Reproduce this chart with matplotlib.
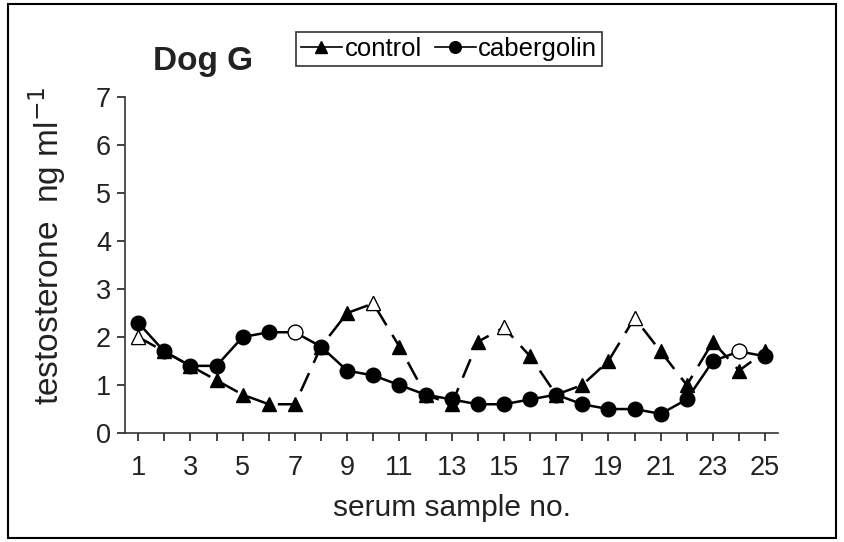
import matplotlib
matplotlib.use("Agg")
from matplotlib import pyplot as plt
from matplotlib.patches import Rectangle

plt.rcParams['font.family'] = ['Liberation Sans', 'DejaVu Sans']

# serum sample numbers
samples = list(range(1, 26))

# testosterone (ng/ml)
control = [2.0, 1.7, 1.4, 1.1, 0.8, 0.6, 0.6, 1.8, 2.5, 2.7, 1.8, 0.8, 0.6,
           1.9, 2.2, 1.6, 0.8, 1.0, 1.5, 2.4, 1.7, 1.0, 1.9, 1.3, 1.7]
cabergolin = [2.3, 1.7, 1.4, 1.4, 2.0, 2.1, 2.1, 1.8, 1.3, 1.2, 1.0, 0.8, 0.7,
              0.6, 0.6, 0.7, 0.8, 0.6, 0.5, 0.5, 0.4, 0.7, 1.5, 1.7, 1.6]

# samples drawn with open symbols
control_open = [1, 10, 15, 20]
cabergolin_open = [7, 24]

fig = plt.figure(figsize=(8.45, 5.42), dpi=100)
ax = fig.add_axes([0.148, 0.201, 0.773, 0.620])

ax.plot(samples, control, color='black', linestyle=(0, (8, 4.5)), lw=1.8,
        marker='^', markersize=10.5, markerfacecolor='black', label='control')
ax.plot(samples, cabergolin, color='black', linestyle='-', lw=1.8,
        marker='o', markersize=10.5, markerfacecolor='black', label='cabergolin')

# open symbols on top
for s in control_open:
    ax.plot(s, control[s - 1], marker='^', markersize=10.5, color='black',
            markerfacecolor='white', markeredgewidth=0.8)
for s in cabergolin_open:
    ax.plot(s, cabergolin[s - 1], marker='o', markersize=10.5, color='black',
            markerfacecolor='white', markeredgewidth=0.8)

ax.set_xlim(0.5, 25.5)
ax.set_ylim(0, 7)
ax.set_xticks(samples)
ax.set_xticklabels([str(s) if s % 2 == 1 else '' for s in samples])
ax.set_yticks(range(0, 8))
ax.tick_params(axis='both', labelsize=19.5, direction='out', length=6,
               width=1.2, colors='#222222')
ax.tick_params(axis='x', pad=10)
ax.tick_params(axis='y', pad=4)
ax.spines['top'].set_visible(False)
ax.spines['right'].set_visible(False)
for sp in ('left', 'bottom'):
    ax.spines[sp].set_linewidth(1.2)
    ax.spines[sp].set_color('#333333')

ax.set_xlabel('serum sample no.', fontsize=21.5, color='#222222', labelpad=9)
ax.set_ylabel('testosterone  ng ml$^{-1}$', fontsize=24, color='#222222')
ax.yaxis.set_label_coords(-0.087, 0.557)

fig.text(0.240, 0.887, 'Dog G', fontsize=24, fontweight='bold',
         ha='center', va='center', color='#222222')

leg = ax.legend(loc='center', bbox_to_anchor=(0.496, 1.143), ncol=2,
                fontsize=18.5, frameon=True, fancybox=False, edgecolor='black',
                handlelength=1.6, handletextpad=0.1, columnspacing=0.5,
                borderpad=0.2, markerscale=0.8)
leg.get_frame().set_linewidth(1.2)
for h in leg.get_lines():
    h.set_linestyle('-')
    h.set_linewidth(1.2)

fig.patches.append(Rectangle((0.009, 0.008), 0.98, 0.985, transform=fig.transFigure,
                             fill=False, edgecolor='black', lw=1.5))

fig.savefig('out.png', dpi=100)
